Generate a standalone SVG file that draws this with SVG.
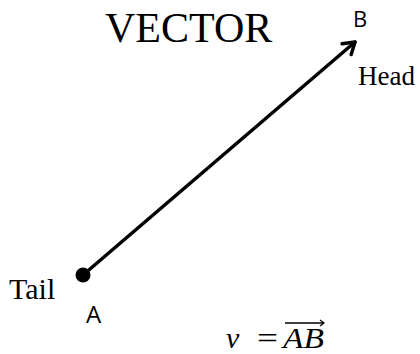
<svg xmlns="http://www.w3.org/2000/svg" width="420" height="354" viewBox="0 0 420 354">
<style>
.serif{font-family:"Liberation Serif","Times New Roman",serif;fill:#000}
.sans{font-family:"Open Sans","Liberation Sans",Arial,sans-serif;fill:#000}
.math{font-family:"Liberation Serif","DejaVu Serif",serif;font-style:italic;fill:#000}
.vec{stroke:#000;stroke-width:3.5;fill:none;stroke-linecap:round}
</style>
<defs>
<marker id="open" viewBox="0 0 20 20" refX="17" refY="10" markerWidth="20" markerHeight="20" markerUnits="userSpaceOnUse" orient="auto">
<path d="M6,3 L17,10 L6,17" fill="none" stroke="#000" stroke-width="3.5" stroke-linecap="round" stroke-linejoin="round"/>
</marker>
<marker id="small" viewBox="0 0 10 10" refX="9" refY="5" markerWidth="10" markerHeight="10" markerUnits="userSpaceOnUse" orient="auto">
<path d="M5,2 L9,5 L5,8" fill="none" stroke="#000" stroke-width="1.2"/>
</marker>
</defs>
<text class="serif" x="105" y="42" font-size="42">VECTOR</text>
<g id="connectors">
<line class="vec" x1="83" y1="275" x2="355" y2="42" marker-end="url(#open)"/>
</g>
<g id="A">
<circle cx="83" cy="275" r="7.5" fill="#000"/>
<text class="sans" x="86" y="323" font-size="24">A</text>
<text class="serif" x="9" y="299" font-size="30">Tail</text>
</g>
<g id="B">
<text class="sans" x="353" y="27" font-size="22">B</text>
<text class="serif" x="358" y="85" font-size="27">Head</text>
</g>
<g id="formula">
<text class="math" x="226" y="348" font-size="30">v</text>
<text class="serif" x="257" y="348" font-size="30" textLength="21" lengthAdjust="spacingAndGlyphs">=</text>
<text class="math" x="283" y="348" font-size="30" textLength="41" lengthAdjust="spacingAndGlyphs">AB</text>
<line x1="285" y1="323" x2="324" y2="323" stroke="#000" stroke-width="1.3" marker-end="url(#small)"/>
</g>
</svg>
